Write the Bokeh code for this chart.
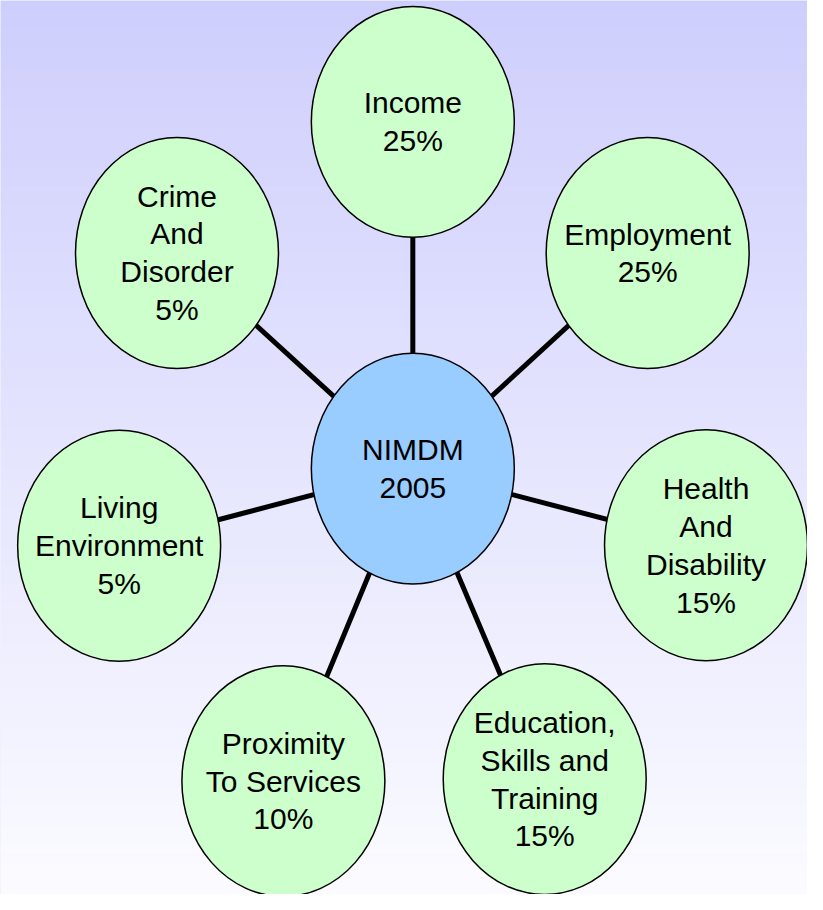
import numpy as np
from bokeh.plotting import figure
from bokeh.models import ColumnDataSource, Range1d
from bokeh.core.properties import value
from bokeh.embed import file_html
from bokeh.resources import INLINE

# ---- data ----
hub_label = "NIMDM\n2005"
domains = ["Income", "Employment", "Health\nAnd\nDisability",
           "Education,\nSkills and\nTraining", "Proximity\nTo Services",
           "Living\nEnvironment", "Crime\nAnd\nDisorder"]
weights = [25, 25, 15, 15, 10, 5, 5]

# ---- layout (diagram units, y pointing down) ----
hub_x, hub_y = 420.5, 476.5
node_x = [420.5, 660.0, 719.5, 555.0, 288.5, 121.0, 180.0]
node_y = [123.5, 257.0, 554.5, 792.5, 794.5, 555.0, 257.0]
node_w, node_h = 207, 235
DW, DH = 823, 910

W, H = 807, 894
p = figure(width=W, height=H, output_backend="svg", toolbar_location=None,
           x_range=Range1d(0, DW), y_range=Range1d(DH, 0),
           min_border=0, outline_line_color=None)
p.axis.visible = False
p.grid.visible = False
p.background_fill_color = "#e4e4fe"
p.border_fill_color = "#e4e4fe"

# background gradient (horizontal strips)
n = 182
edges = np.linspace(0, DH, n + 1)
t = (np.arange(n) + 0.5) / n
top = np.array([206, 206, 253])
bot = np.array([251, 251, 255])
cols = top[None, :] * (1 - t[:, None]) + bot[None, :] * t[:, None]
hexes = ["#%02x%02x%02x" % tuple(int(round(v)) for v in c) for c in cols]
p.quad(left=0, right=DW, top=edges[:-1], bottom=edges[1:] + 0.6,
       fill_color=hexes, line_color=None)

labels = [f"{d}\n{w}%" for d, w in zip(domains, weights)]
src = ColumnDataSource(dict(x=node_x, y=node_y, label=labels,
                            x0=[hub_x] * len(node_x), y0=[hub_y] * len(node_y)))

# spokes
p.segment(x0="x0", y0="y0", x1="x", y1="y", source=src,
          line_color="black", line_width=5)

# satellite ellipses
p.ellipse(x="x", y="y", width=node_w, height=node_h, source=src,
          fill_color="#ccffcc", line_color="black", line_width=1.5)

# hub
p.ellipse(x=[hub_x], y=[hub_y], width=node_w, height=node_h,
          fill_color="#99ccff", line_color="black", line_width=1.5)

font = value("Liberation Sans")
p.text(x="x", y="y", text="label", source=src, text_font=font,
       text_font_size="30px", text_color="black", text_align="center",
       text_baseline="middle", text_line_height=1.15)
p.text(x=[hub_x], y=[hub_y], text=[hub_label], text_font=font,
       text_font_size="30px", text_color="black", text_align="center",
       text_baseline="middle", text_line_height=1.15)

open("out.html", "w").write(file_html(p, INLINE))
